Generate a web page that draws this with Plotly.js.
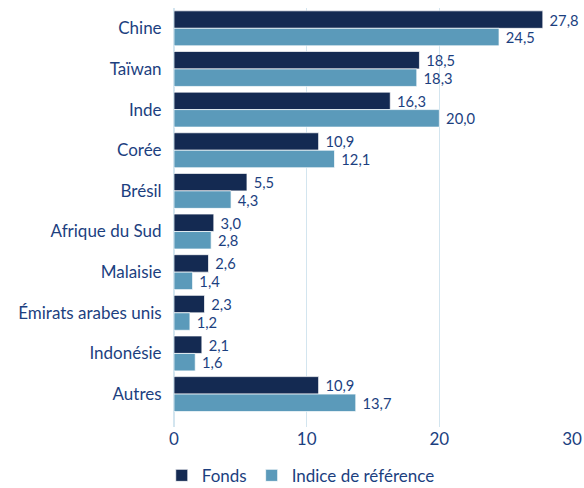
<!DOCTYPE html>
<html><head><meta charset="utf-8">
<script src="https://cdn.plot.ly/plotly-3.0.1.min.js"></script>
<style>html,body{margin:0;padding:0;background:#fff}</style>
</head><body>
<div id="chart" style="width:584px;height:488px"></div>
<script>
const categories = ["Chine","Taïwan","Inde","Corée","Brésil","Afrique du Sud","Malaisie","Émirats arabes unis","Indonésie","Autres"];
const fonds = [27.8,18.5,16.3,10.9,5.5,3.0,2.6,2.3,2.1,10.9];
const indice = [24.5,18.3,20.0,12.1,4.3,2.8,1.4,1.2,1.6,13.7];
const txtColor = "#1c3f7f";
const fnt = "Lato, 'Open Sans', sans-serif";
const traces = [
  {type:"bar", orientation:"h", name:"Fonds", y:categories, x:fonds,
   marker:{color:"#142a52", line:{color:"rgba(255,255,255,0.7)", width:1}},
   texttemplate:" %{x:.1f}", textposition:"outside", cliponaxis:false,
   textfont:{color:txtColor, size:16, family:fnt}},
  {type:"bar", orientation:"h", name:"Indice de référence", y:categories, x:indice,
   marker:{color:"#5b9aba", line:{color:"rgba(255,255,255,0.7)", width:1}},
   texttemplate:" %{x:.1f}", textposition:"outside", cliponaxis:false,
   textfont:{color:txtColor, size:16, family:fnt}}
];
const layout = {
  width:584, height:488,
  margin:{l:174, r:12, t:8, b:61, autoexpand:false},
  separators:", ",
  barmode:"group", bargap:0.14, bargroupgap:0,
  font:{family:fnt, color:txtColor, size:17},
  xaxis:{range:[0,30], tickvals:[0,10,20,30], showgrid:true, gridcolor:"#d3e5ef", gridwidth:1,
    zeroline:true, zerolinecolor:"#d3e5ef", zerolinewidth:2, showline:false, ticks:"",
    tickfont:{size:17, color:txtColor, family:fnt}},
  yaxis:{type:"category", range:[9.81,-0.5], showgrid:false, zeroline:false,
    ticks:"outside", ticklen:8, tickcolor:"rgba(0,0,0,0)",
    automargin:false, tickfont:{size:17, color:txtColor, family:fnt}},
  showlegend:true,
  legend:{orientation:"h", x:0.515, xref:"container", xanchor:"center", y:0.025, yref:"container", yanchor:"middle",
    font:{size:17, color:txtColor, family:fnt}, itemwidth:30, traceorder:"normal"},
  plot_bgcolor:"#fff", paper_bgcolor:"#fff"
};
Plotly.newPlot("chart", traces, layout, {displayModeBar:false, staticPlot:true});
</script>
</body></html>
